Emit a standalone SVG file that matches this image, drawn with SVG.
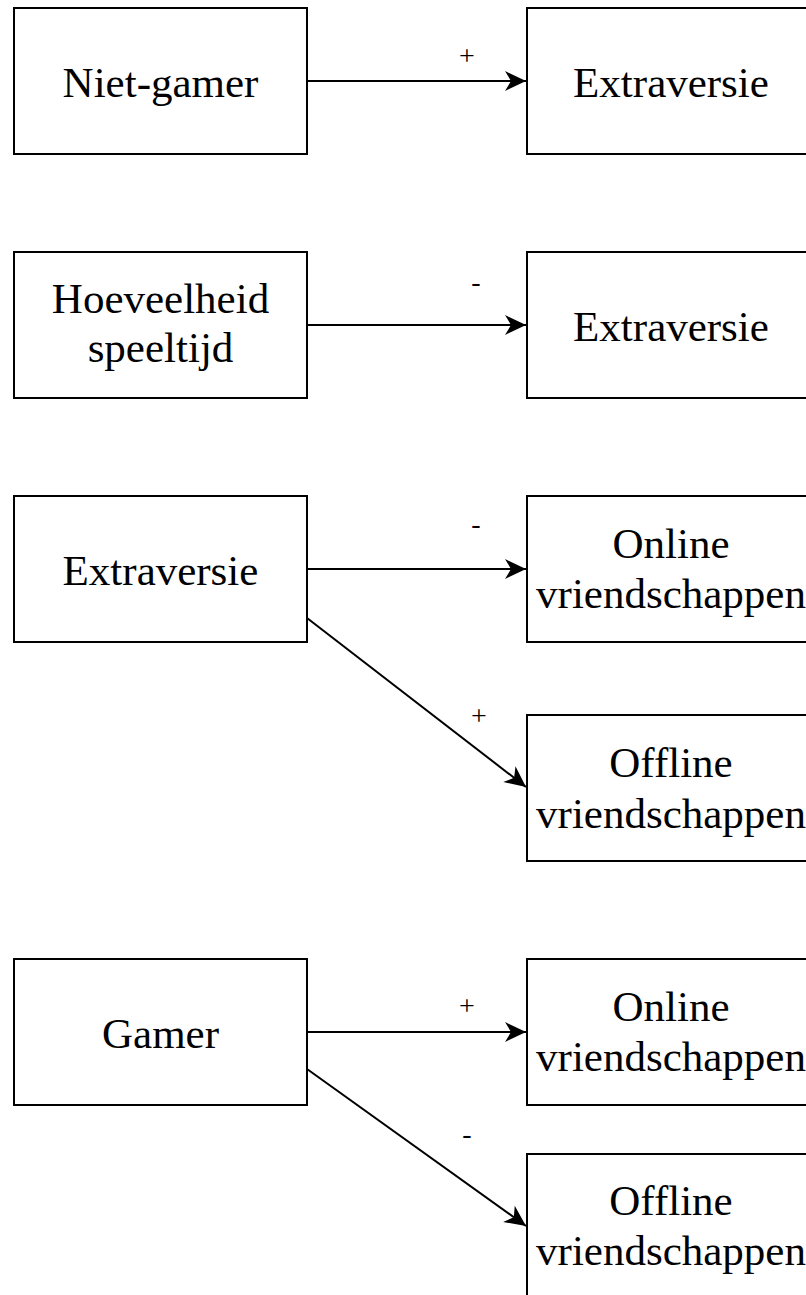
<svg xmlns="http://www.w3.org/2000/svg" width="806" height="1295" viewBox="0 0 806 1295">
<style>
.box{fill:#fff;stroke:#000;stroke-width:2}
.edge{stroke:#000;stroke-width:2;fill:none}
</style>
<defs>
<marker id="arr" markerUnits="userSpaceOnUse" markerWidth="24" markerHeight="24" viewBox="-22 -12 24 24" refX="0" refY="0" orient="auto">
<path d="M0,0 L-21,-10 L-15,0 L-21,10 Z" fill="#000"/>
</marker>
</defs>
<rect width="806" height="1295" fill="#fff"/>
<g id="edges">
<path class="edge" d="M307,81 L526,81" marker-end="url(#arr)"/>
<path class="edge" d="M307,325 L526,325" marker-end="url(#arr)"/>
<path class="edge" d="M307,569 L526,569" marker-end="url(#arr)"/>
<path class="edge" d="M307,618 L526,787" marker-end="url(#arr)"/>
<path class="edge" d="M307,1032 L526,1032" marker-end="url(#arr)"/>
<path class="edge" d="M307,1069 L526,1226" marker-end="url(#arr)"/>
<g font-family="Liberation Serif, Times New Roman, serif" font-size="28" fill="#000" text-anchor="middle">
<text x="467" y="65">+</text>
<text x="476" y="291">-</text>
<text x="476" y="533">-</text>
<text x="479" y="725">+</text>
<text x="467" y="1015">+</text>
<text x="467" y="1143">-</text>
</g>
</g>
<g font-family="Liberation Serif, Times New Roman, serif" font-size="43" fill="#000" text-anchor="middle">
<g id="n-nietgamer"><rect class="box" x="14" y="8" width="293" height="146"/><text x="160.5" y="97">Niet-gamer</text></g>
<g id="n-extra1"><rect class="box" x="527" y="8" width="293" height="146"/><text x="671" y="97">Extraversie</text></g>
<g id="n-hoeveelheid"><rect class="box" x="14" y="252" width="293" height="146"/><text x="160.5" y="313">Hoeveelheid</text><text x="160.5" y="362">speeltijd</text></g>
<g id="n-extra2"><rect class="box" x="527" y="252" width="293" height="146"/><text x="671" y="341">Extraversie</text></g>
<g id="n-extra3"><rect class="box" x="14" y="496" width="293" height="146"/><text x="160.5" y="585">Extraversie</text></g>
<g id="n-online1"><rect class="box" x="527" y="496" width="293" height="146"/><text x="671" y="558">Online</text><text x="671" y="608">vriendschappen</text></g>
<g id="n-offline1"><rect class="box" x="527" y="715" width="293" height="146"/><text x="671" y="777">Offline</text><text x="671" y="828">vriendschappen</text></g>
<g id="n-gamer"><rect class="box" x="14" y="959" width="293" height="146"/><text x="160.5" y="1048">Gamer</text></g>
<g id="n-online2"><rect class="box" x="527" y="959" width="293" height="146"/><text x="671" y="1021">Online</text><text x="671" y="1071">vriendschappen</text></g>
<g id="n-offline2"><rect class="box" x="527" y="1154" width="293" height="146"/><text x="671" y="1215">Offline</text><text x="671" y="1265">vriendschappen</text></g>
</g>
</svg>
